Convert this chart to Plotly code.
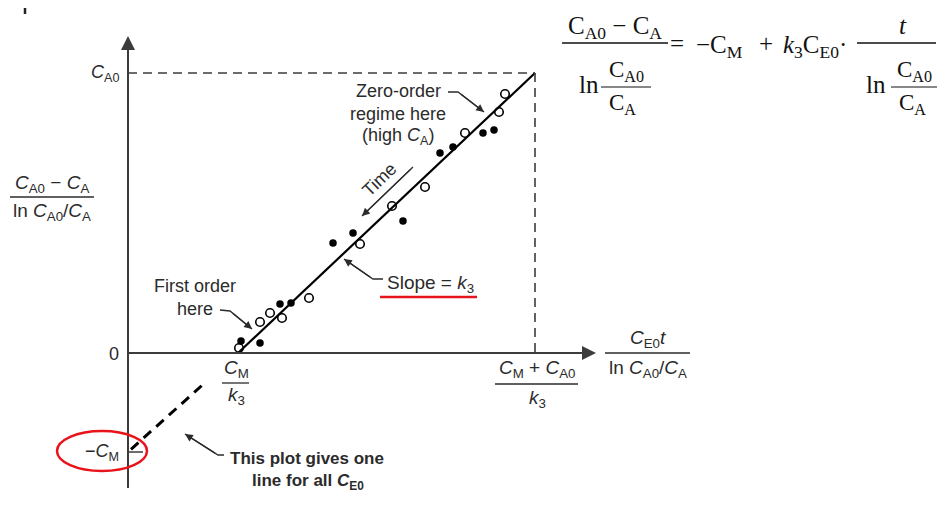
import plotly.graph_objects as go

# ---- data (units: C_A0 level = 2.80) ----
open_x = [3.77, 3.71, 3.37, 2.97, 2.64, 2.32, 1.81, 1.54, 1.42, 1.32, 1.11]
open_y = [2.59, 2.41, 2.20, 1.66, 1.47, 1.09, 0.55, 0.35, 0.40, 0.31, 0.05]
filled_x = [3.66, 3.55, 3.25, 3.12, 2.75, 2.25, 2.05, 1.63, 1.52, 1.32, 1.13]
filled_y = [2.23, 2.20, 2.06, 2.00, 1.32, 1.20, 1.10, 0.50, 0.49, 0.10, 0.12]

x_cm_k3 = 1.10      # C_M / k3  (x-intercept)
x_end = 4.07        # (C_M + C_A0) / k3
c_a0 = 2.80         # C_A0
neg_cm = -0.99      # -C_M (y-intercept)
ext_x = [0.03, 0.75]  # dashed extension of the line toward -C_M

# ---- helpers: page pixel -> data (layout only) ----
def X(p):
    return (p - 128) / 100.0

def Y(p):
    return (353 - p) / 100.0

SANS = "Liberation Sans, Arial, sans-serif"
SERIF = "Liberation Serif, Times New Roman, serif"
INK = "#2b2b2b"
AX = "#3c3c3c"

fig = go.Figure()

fig.add_trace(go.Scatter(x=[x_cm_k3, x_end], y=[0, c_a0], mode="lines",
                         line=dict(color="black", width=2.2), hoverinfo="skip"))
ext_y = [neg_cm * (1 - v / x_cm_k3) for v in ext_x]
fig.add_trace(go.Scatter(x=ext_x, y=ext_y, mode="lines",
                         line=dict(color="black", width=3, dash="10px,7px"), hoverinfo="skip"))
fig.add_trace(go.Scatter(x=open_x, y=open_y, mode="markers",
                         marker=dict(symbol="circle-open", size=8.5, color="black", line=dict(width=1.6)),
                         hoverinfo="skip"))
fig.add_trace(go.Scatter(x=filled_x, y=filled_y, mode="markers",
                         marker=dict(symbol="circle", size=7.5, color="black"), hoverinfo="skip"))

shapes = []
shapes.append(dict(type="line", x0=0, y0=Y(488), x1=0, y1=Y(45), line=dict(color=AX, width=2)))
shapes.append(dict(type="line", x0=0, y0=0, x1=X(585), y1=0, line=dict(color=AX, width=2)))
shapes.append(dict(type="line", x0=0, y0=neg_cm, x1=X(143), y1=neg_cm, line=dict(color=AX, width=1.5)))
shapes.append(dict(type="line", x0=0, y0=c_a0, x1=x_end, y1=c_a0,
                   line=dict(color=AX, width=1.6, dash="9px,6px")))
shapes.append(dict(type="line", x0=x_end, y0=c_a0, x1=x_end, y1=0,
                   line=dict(color=AX, width=1.6, dash="9px,6px")))

def bar(x0p, x1p, yp, w=1.3, col=INK):
    shapes.append(dict(type="line", x0=X(x0p), x1=X(x1p), y0=Y(yp), y1=Y(yp), line=dict(color=col, width=w)))

bar(10, 94, 197)
bar(222, 249, 383)
bar(495, 578, 384)
bar(605, 690, 353)
bar(562, 668, 43, 1.4, "#111")
bar(601, 651, 87, 1.2, "#111")
bar(857, 936, 43, 1.4, "#111")
bar(891, 937, 87, 1.2, "#111")

anns = []

def leader(pts, w=1.3):
    """Polyline drawn as a shape, with an arrowhead at its last point."""
    d = "M " + " L ".join(f"{X(a)},{Y(b)}" for a, b in pts)
    shapes.append(dict(type="path", path=d, line=dict(color=INK, width=w)))
    (xa, ya), (xb, yb) = pts[-2], pts[-1]
    anns.append(dict(x=X(xb), y=Y(yb), ax=X(xa), ay=Y(ya), axref="x", ayref="y", xref="x", yref="y",
                     text=" ", showarrow=True, arrowhead=2, arrowsize=1.2, arrowwidth=w, arrowcolor=INK,
                     font=dict(size=10)))

leader([(448, 92), (458, 92), (484, 112)])
leader([(383, 279), (373, 279), (344, 259)])
leader([(220, 310), (230, 311), (252, 329)])
leader([(224, 455), (218, 455), (185, 434)])
leader([(413, 167), (362, 216)])

shapes.append(dict(type="line", x0=X(380), x1=X(477), y0=Y(297), y1=Y(297),
                   line=dict(color="#e8141b", width=2.5)))
shapes.append(dict(type="circle", x0=X(57), x1=X(147), y0=Y(471), y1=Y(431),
                   line=dict(color="#e8141b", width=2.5)))
shapes.append(dict(type="line", x0=X(25), x1=X(25), y0=Y(8), y1=Y(14), line=dict(color="#222", width=2.5)))

def txt(xp, yp, t, size=17, fam=SANS, col=INK, angle=0, xa="center"):
    anns.append(dict(x=X(xp), y=Y(yp), text=t, showarrow=False, xanchor=xa, yanchor="middle",
                     font=dict(family=fam, size=size, color=col), textangle=angle))

def axis_arrow(xh, yh, xt, yt):
    anns.append(dict(x=X(xh), y=Y(yh), ax=X(xt), ay=Y(yt), axref="x", ayref="y", xref="x", yref="y",
                     text=" ", showarrow=True, arrowhead=2, arrowsize=1.4, arrowwidth=2, arrowcolor=AX,
                     font=dict(size=10)))

axis_arrow(128, 36, 128, 60)
axis_arrow(596, 353, 570, 353)

# tick labels
txt(121, 73, "<i>C</i><sub>A0</sub>", 18, xa="right")
txt(121, 354, "0", 18, xa="right")
txt(121, 452, "\u2212<i>C</i><sub>M</sub>", 18, xa="right")

# y label
txt(52, 184, "<i>C</i><sub>A0</sub> \u2212 <i>C</i><sub>A</sub>", 19)
txt(52, 212, "ln <i>C</i><sub>A0</sub>/<i>C</i><sub>A</sub>", 19)
# x label
txt(648, 339, "<i>C</i><sub>E0</sub><i>t</i>", 19)
txt(648, 369, "ln <i>C</i><sub>A0</sub>/<i>C</i><sub>A</sub>", 19)
# C_M/k3
txt(236, 369, "<i>C</i><sub>M</sub>", 19)
txt(236, 396, "<i>k</i><sub>3</sub>", 19)
# (C_M + C_A0)/k3
txt(537, 369, "<i>C</i><sub>M</sub> + <i>C</i><sub>A0</sub>", 19)
txt(537, 399, "<i>k</i><sub>3</sub>", 19)

txt(398, 91, "Zero-order", 18)
txt(398, 114, "regime here", 18)
txt(398, 136, "(high <i>C</i><sub>A</sub>)", 18)
txt(379, 180, "Time", 18, angle=-44)
txt(430, 284, "Slope = <i>k</i><sub>3</sub>", 19)
txt(195, 286, "First order", 18)
txt(195, 309, "here", 18)
txt(307, 458, "<b>This plot gives one</b>", 17)
txt(308, 482, "<b>line for all <i>C</i><sub>E0</sub></b>", 17)

# equation (serif)
EQ = "#111"
txt(615, 27, "C<sub>A0</sub> \u2212 C<sub>A</sub>", 25, SERIF, EQ)
txt(589, 84, "ln", 25, SERIF, EQ)
txt(626, 71, "C<sub>A0</sub>", 23, SERIF, EQ)
txt(622, 104, "C<sub>A</sub>", 23, SERIF, EQ)
txt(677, 43, "=", 25, SERIF, EQ)
txt(719, 46, "\u2212C<sub>M</sub>", 25, SERIF, EQ)
txt(766, 43, "+", 25, SERIF, EQ)
txt(815, 46, "<i>k</i><sub>3</sub>C<sub>E0</sub>\u00b7", 25, SERIF, EQ)
txt(903, 25, "<i>t</i>", 25, SERIF, EQ)
txt(876, 84, "ln", 25, SERIF, EQ)
txt(914, 71, "C<sub>A0</sub>", 23, SERIF, EQ)
txt(912, 104, "C<sub>A</sub>", 23, SERIF, EQ)

# page body has an 8px margin: figure pixel = page pixel - 8
fig.update_layout(
    width=942, height=515, autosize=False,
    margin=dict(l=0, r=0, t=0, b=0, pad=0),
    paper_bgcolor="white", plot_bgcolor="white",
    showlegend=False,
    xaxis=dict(range=[X(8), X(950)], visible=False, fixedrange=True),
    yaxis=dict(range=[Y(523), Y(8)], visible=False, fixedrange=True),
    shapes=shapes, annotations=anns,
)

fig.write_html("out.html")
